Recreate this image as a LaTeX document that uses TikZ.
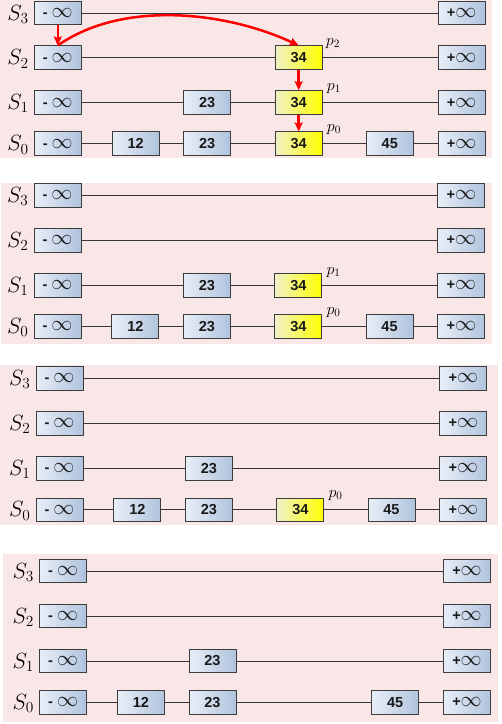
\RequirePackage{fix-cm}
\documentclass[tikz,border=0pt]{standalone}
\usepackage{fontspec}
\newfontfamily\cellfont{Liberation Sans}
\usetikzlibrary{arrows.meta}
\definecolor{bg}{RGB}{249,230,230}
\definecolor{boxL}{RGB}{232,238,247}
\definecolor{boxR}{RGB}{176,195,221}
\definecolor{yelL}{RGB}{240,240,200}
\definecolor{yelR}{RGB}{255,255,0}
\definecolor{edgec}{RGB}{60,60,60}
\definecolor{wirec}{RGB}{55,55,55}
\definecolor{jumpred}{RGB}{255,0,0}
\newcommand\minf{-\ {\fontsize{21}{21}\selectfont$\infty$}}
\newcommand\pinf{+{\fontsize{21}{21}\selectfont$\infty$}}
\tikzset{
  cell/.style={draw=edgec, line width=1pt, minimum width=47pt, minimum height=23.5pt,
    inner sep=0pt, left color=boxL, right color=boxR,
    font=\cellfont\bfseries\fontsize{14.5}{17}\selectfont, text=black!90},
  hot/.style={cell, left color=yelL, right color=yelR},
  lvl/.style={anchor=base east, inner sep=0pt, font=\fontsize{22}{22}\selectfont},
  plab/.style={anchor=base west, inner sep=0pt, font=\fontsize{16}{16}\selectfont},
  wire/.style={draw=wirec, line width=0.9pt},
  jump/.style={draw=jumpred, line width=2.5pt, -{Stealth[length=9pt,width=8pt,inset=1.5pt]}},
}
\begin{document}
\begin{tikzpicture}[x=1pt,y=1pt]
\useasboundingbox (0,0) rectangle (502,-724);
% backgrounds
\fill[bg] (0,0) rectangle (492,-158);
\fill[bg] (1,-183) rectangle (492,-343.5);
\fill[bg] (0,-365) rectangle (498,-524.5);
\fill[bg] (2.5,-554) rectangle (498,-722);

% ---------------- panel A
\begin{scope}[shift={(0,-13.1)}]
\node[cell] (A-m3) at (57.8,0) {\minf};
\node[cell] (A-p3) at (461.7,0) {\pinf};
\node[cell] (A-m2) at (57.8,-44.6) {\minf};
\node[hot]  (A-k2) at (298.7,-44.6) {34};
\node[cell] (A-p2) at (461.7,-44.6) {\pinf};
\node[cell] (A-m1) at (57.8,-89.4) {\minf};
\node[cell] (A-b1) at (207.2,-89.4) {23};
\node[hot]  (A-k1) at (298.7,-89.4) {34};
\node[cell] (A-p1) at (461.7,-89.4) {\pinf};
\node[cell] (A-m0) at (57.8,-130.6) {\minf};
\node[cell] (A-a0) at (135.7,-130.6) {12};
\node[cell] (A-b0) at (207.2,-130.6) {23};
\node[hot]  (A-k0) at (298.7,-130.6) {34};
\node[cell] (A-d0) at (389.8,-130.6) {45};
\node[cell] (A-p0) at (461.7,-130.6) {\pinf};
\draw[wire] (A-m3) -- (A-p3);
\draw[wire] (A-m2) -- (A-k2); \draw[wire] (A-k2) -- (A-p2);
\draw[wire] (A-m1) -- (A-b1); \draw[wire] (A-b1) -- (A-k1); \draw[wire] (A-k1) -- (A-p1);
\draw[wire] (A-m0) -- (A-a0); \draw[wire] (A-a0) -- (A-b0); \draw[wire] (A-b0) -- (A-k0);
\draw[wire] (A-k0) -- (A-d0); \draw[wire] (A-d0) -- (A-p0);
\node[lvl] (A-s3) at ([xshift=-5pt,yshift=-7pt]A-m3.west) {$S_3$};
\node[lvl] (A-s2) at ([xshift=-5pt,yshift=-7pt]A-m2.west) {$S_2$};
\node[lvl] (A-s1) at ([xshift=-5pt,yshift=-7pt]A-m1.west) {$S_1$};
\node[lvl] (A-s0) at ([xshift=-5pt,yshift=-7pt]A-m0.west) {$S_0$};
\node[plab] (A-q2) at ([xshift=3pt]A-k2.north east) {$p_2$};
\node[plab] (A-q1) at ([xshift=4pt]A-k1.north east) {$p_1$};
\node[plab] (A-q0) at ([xshift=4pt]A-k0.north east) {$p_0$};
\draw[jump] (A-m3) -- (A-m2);
\draw[jump] (A-m2.north) to[out=35,in=155,looseness=0.85] (A-k2.north);
\draw[jump] (A-k2) -- (A-k1);
\draw[jump] (A-k1) -- (A-k0);
\end{scope}

% ---------------- panel B
\begin{scope}[shift={(-0.3,-195.3)}]
\node[cell] (B-m3) at (57.8,0) {\minf};
\node[cell] (B-p3) at (461.7,0) {\pinf};
\node[cell] (B-m2) at (57.8,-45) {\minf};
\node[cell] (B-p2) at (461.7,-45) {\pinf};
\node[cell] (B-m1) at (57.8,-90) {\minf};
\node[cell] (B-b1) at (207.2,-90) {23};
\node[hot]  (B-k1) at (298.7,-90) {34};
\node[cell] (B-p1) at (461.7,-90) {\pinf};
\node[cell] (B-m0) at (57.8,-131) {\minf};
\node[cell] (B-a0) at (135.7,-131) {12};
\node[cell] (B-b0) at (207.2,-131) {23};
\node[hot]  (B-k0) at (298.7,-131) {34};
\node[cell] (B-d0) at (389.8,-131) {45};
\node[cell] (B-p0) at (461.7,-131) {\pinf};
\draw[wire] (B-m3) -- (B-p3);
\draw[wire] (B-m2) -- (B-p2);
\draw[wire] (B-m1) -- (B-b1); \draw[wire] (B-b1) -- (B-k1); \draw[wire] (B-k1) -- (B-p1);
\draw[wire] (B-m0) -- (B-a0); \draw[wire] (B-a0) -- (B-b0); \draw[wire] (B-b0) -- (B-k0);
\draw[wire] (B-k0) -- (B-d0); \draw[wire] (B-d0) -- (B-p0);
\node[lvl] (B-s3) at ([xshift=-5pt,yshift=-7pt]B-m3.west) {$S_3$};
\node[lvl] (B-s2) at ([xshift=-5pt,yshift=-7pt]B-m2.west) {$S_2$};
\node[lvl] (B-s1) at ([xshift=-5pt,yshift=-7pt]B-m1.west) {$S_1$};
\node[lvl] (B-s0) at ([xshift=-5pt,yshift=-7pt]B-m0.west) {$S_0$};
\node[plab] (B-q1) at ([xshift=4pt,yshift=-1pt]B-k1.north east) {$p_1$};
\node[plab] (B-q0) at ([xshift=4pt]B-k0.north east) {$p_0$};
\end{scope}

% ---------------- panel C
\begin{scope}[shift={(1.7,-378.3)}]
\node[cell] (C-m3) at (57.8,0) {\minf};
\node[cell] (C-p3) at (461.7,0) {\pinf};
\node[cell] (C-m2) at (57.8,-45) {\minf};
\node[cell] (C-p2) at (461.7,-45) {\pinf};
\node[cell] (C-m1) at (57.8,-90) {\minf};
\node[cell] (C-b1) at (207.2,-90) {23};
\node[cell] (C-p1) at (461.7,-90) {\pinf};
\node[cell] (C-m0) at (57.8,-131.5) {\minf};
\node[cell] (C-a0) at (135.7,-131.5) {12};
\node[cell] (C-b0) at (207.2,-131.5) {23};
\node[hot]  (C-k0) at (298.7,-131.5) {34};
\node[cell] (C-d0) at (389.8,-131.5) {45};
\node[cell] (C-p0) at (461.7,-131.5) {\pinf};
\draw[wire] (C-m3) -- (C-p3);
\draw[wire] (C-m2) -- (C-p2);
\draw[wire] (C-m1) -- (C-b1); \draw[wire] (C-b1) -- (C-p1);
\draw[wire] (C-m0) -- (C-a0); \draw[wire] (C-a0) -- (C-b0); \draw[wire] (C-b0) -- (C-k0);
\draw[wire] (C-k0) -- (C-d0); \draw[wire] (C-d0) -- (C-p0);
\node[lvl] (C-s3) at ([xshift=-5pt,yshift=-7pt]C-m3.west) {$S_3$};
\node[lvl] (C-s2) at ([xshift=-5pt,yshift=-7pt]C-m2.west) {$S_2$};
\node[lvl] (C-s1) at ([xshift=-5pt,yshift=-7pt]C-m1.west) {$S_1$};
\node[lvl] (C-s0) at ([xshift=-5pt,yshift=-7pt]C-m0.west) {$S_0$};
\node[plab] (C-q0) at ([xshift=4pt]C-k0.north east) {$p_0$};
\end{scope}

% ---------------- panel D
\begin{scope}[shift={(5.3,-571)}]
\node[cell] (D-m3) at (57.8,0) {\minf};
\node[cell] (D-p3) at (461.7,0) {\pinf};
\node[cell] (D-m2) at (57.8,-45) {\minf};
\node[cell] (D-p2) at (461.7,-45) {\pinf};
\node[cell] (D-m1) at (57.8,-90) {\minf};
\node[cell] (D-b1) at (207.2,-90) {23};
\node[cell] (D-p1) at (461.7,-90) {\pinf};
\node[cell] (D-m0) at (57.8,-131.3) {\minf};
\node[cell] (D-a0) at (135.7,-131.3) {12};
\node[cell] (D-b0) at (207.2,-131.3) {23};
\node[cell] (D-d0) at (389.8,-131.3) {45};
\node[cell] (D-p0) at (461.7,-131.3) {\pinf};
\draw[wire] (D-m3) -- (D-p3);
\draw[wire] (D-m2) -- (D-p2);
\draw[wire] (D-m1) -- (D-b1); \draw[wire] (D-b1) -- (D-p1);
\draw[wire] (D-m0) -- (D-a0); \draw[wire] (D-a0) -- (D-b0); \draw[wire] (D-b0) -- (D-d0);
\draw[wire] (D-d0) -- (D-p0);
\node[lvl] (D-s3) at ([xshift=-5pt,yshift=-7pt]D-m3.west) {$S_3$};
\node[lvl] (D-s2) at ([xshift=-5pt,yshift=-7pt]D-m2.west) {$S_2$};
\node[lvl] (D-s1) at ([xshift=-5pt,yshift=-7pt]D-m1.west) {$S_1$};
\node[lvl] (D-s0) at ([xshift=-5pt,yshift=-7pt]D-m0.west) {$S_0$};
\end{scope}
\end{tikzpicture}
\end{document}
